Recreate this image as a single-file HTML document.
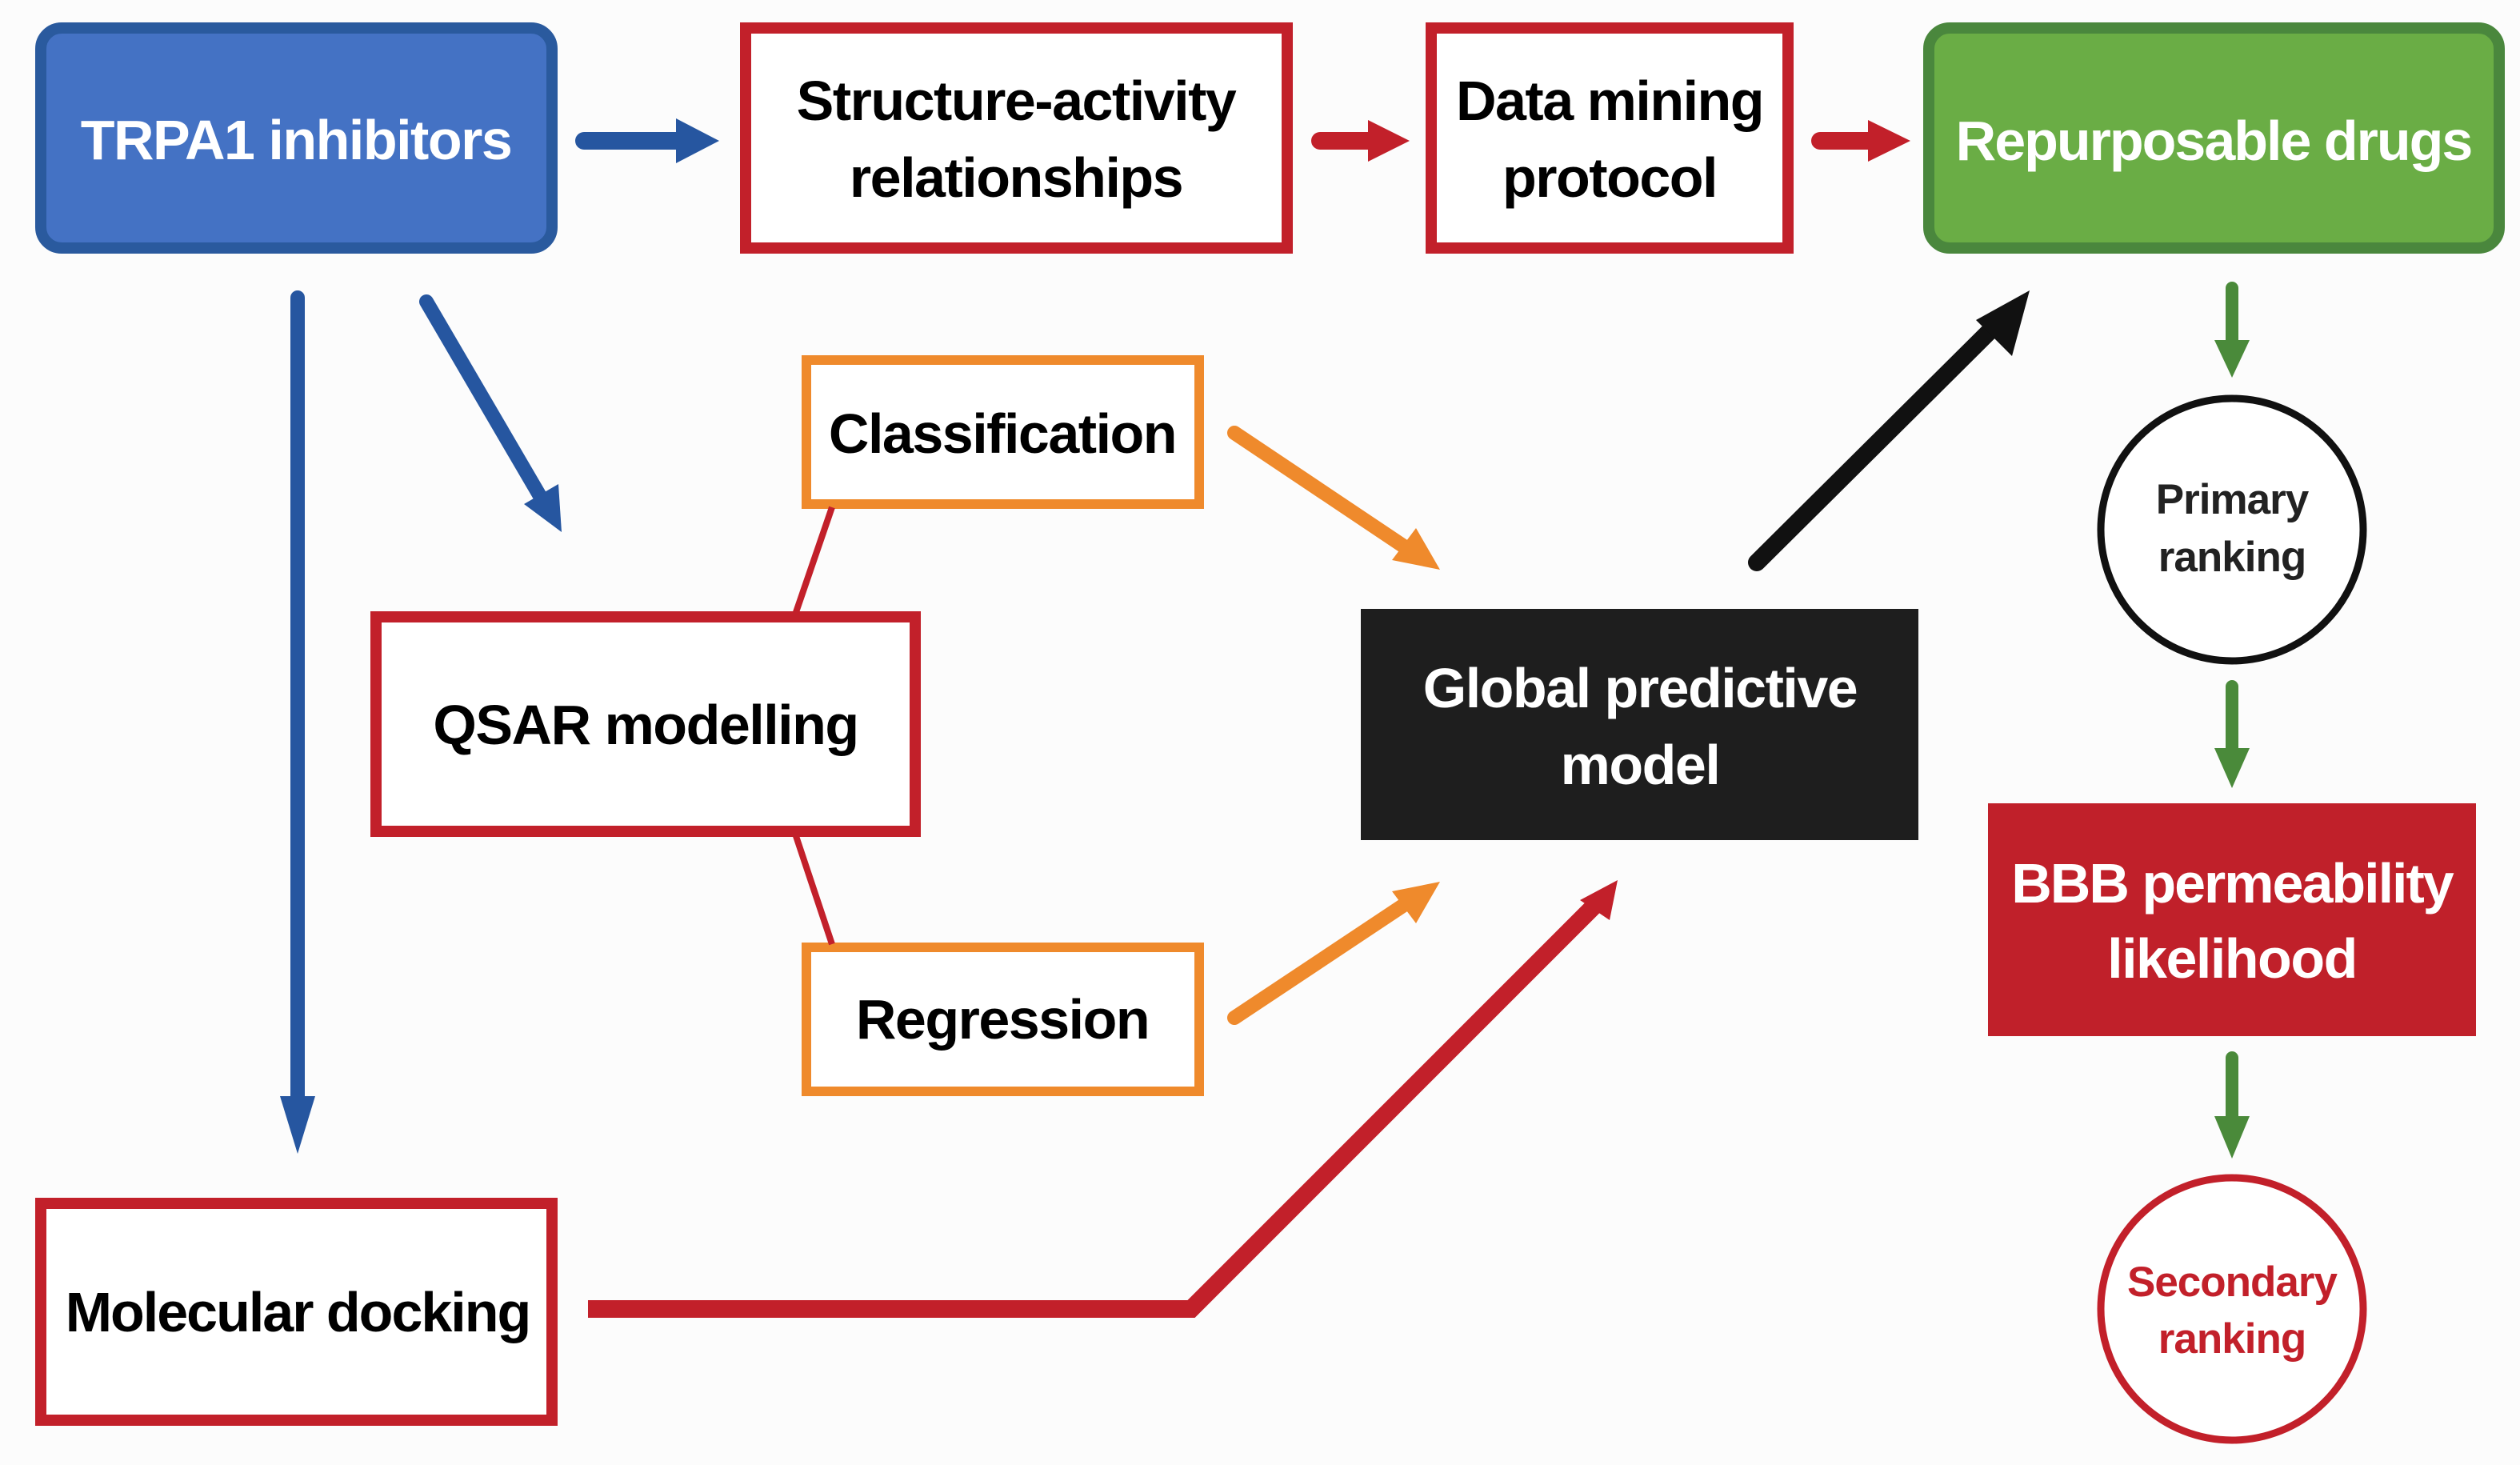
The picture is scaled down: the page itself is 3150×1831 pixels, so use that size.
<!DOCTYPE html>
<html><head><meta charset="utf-8"><style>
html,body{margin:0;padding:0;background:#fcfcfc;}
svg{display:block;}
text{font-family:"Liberation Sans",sans-serif;font-weight:bold;text-anchor:middle;}
</style></head><body>
<svg width="3150" height="1831" viewBox="0 0 3150 1831" xmlns="http://www.w3.org/2000/svg">
<rect width="3150" height="1831" fill="#fcfcfc"/>
<!-- Boxes -->
<rect x="51" y="35" width="639" height="275" rx="26" fill="#4472c4" stroke="#2a5a9e" stroke-width="14"/>
<text x="370" y="199" font-size="70" fill="#fff" letter-spacing="-1.5">TRPA1 inhibitors</text>

<rect x="932" y="35" width="677" height="275" fill="#fff" stroke="#c2202a" stroke-width="14"/>
<text x="1270" y="150" font-size="70" fill="#000" letter-spacing="-1.5">Structure-activity</text>
<text x="1270" y="246" font-size="70" fill="#000" letter-spacing="-1.5">relationships</text>

<rect x="1789" y="35" width="446" height="275" fill="#fff" stroke="#c2202a" stroke-width="14"/>
<text x="2012" y="150" font-size="70" fill="#000" letter-spacing="-1.5">Data mining</text>
<text x="2012" y="246" font-size="70" fill="#000" letter-spacing="-1.5">protocol</text>

<rect x="2411" y="35" width="713" height="275" rx="26" fill="#6aad45" stroke="#4a873d" stroke-width="14"/>
<text x="2767" y="200" font-size="70" fill="#fff" letter-spacing="-2">Repurposable drugs</text>

<rect x="1008" y="450" width="491" height="180" fill="#fff" stroke="#ef8a2c" stroke-width="12"/>
<text x="1253" y="566" font-size="70" fill="#000" letter-spacing="-1.5">Classification</text>

<rect x="470" y="771" width="674" height="268" fill="#fff" stroke="#c2202a" stroke-width="14"/>
<text x="807" y="930" font-size="70" fill="#000" letter-spacing="-1.5">QSAR modelling</text>

<rect x="1008" y="1184" width="491" height="180" fill="#fff" stroke="#ef8a2c" stroke-width="12"/>
<text x="1253" y="1298" font-size="70" fill="#000" letter-spacing="-1.5">Regression</text>

<rect x="1701" y="761" width="697" height="289" fill="#1e1e1e"/>
<text x="2050" y="884" font-size="70" fill="#fff" letter-spacing="-1.5">Global predictive</text>
<text x="2050" y="980" font-size="70" fill="#fff" letter-spacing="-1.5">model</text>

<rect x="51" y="1504" width="639" height="271" fill="#fff" stroke="#c2202a" stroke-width="14"/>
<text x="372" y="1664" font-size="70" fill="#000" letter-spacing="-2">Molecular docking</text>

<circle cx="2790" cy="662" r="164" fill="#fff" stroke="#111" stroke-width="9"/>
<text x="2790" y="642" font-size="53" fill="#222" letter-spacing="-1">Primary</text>
<text x="2790" y="714" font-size="53" fill="#222" letter-spacing="-1">ranking</text>

<rect x="2485" y="1004" width="610" height="291" fill="#c0202a"/>
<text x="2790" y="1128" font-size="70" fill="#fff" letter-spacing="-2">BBB permeability</text>
<text x="2790" y="1222" font-size="70" fill="#fff" letter-spacing="-1.5">likelihood</text>

<circle cx="2790" cy="1636" r="164" fill="#fff" stroke="#c2202a" stroke-width="9"/>
<text x="2790" y="1620" font-size="53" fill="#c2202a" letter-spacing="-1">Secondary</text>
<text x="2790" y="1691" font-size="53" fill="#c2202a" letter-spacing="-1">ranking</text>

<!-- connector lines -->
<line x1="1040" y1="634" x2="994" y2="768" stroke="#c2202a" stroke-width="8"/>
<line x1="994" y1="1042" x2="1040" y2="1180" stroke="#c2202a" stroke-width="8"/>

<!-- Arrows -->
<g stroke-linecap="round" fill="none">
<line x1="730" y1="176" x2="850" y2="176" stroke="#2656a0" stroke-width="22"/>
<line x1="1650" y1="176" x2="1715" y2="176" stroke="#c2202a" stroke-width="22"/>
<line x1="2275" y1="176" x2="2340" y2="176" stroke="#c2202a" stroke-width="22"/>
<line x1="372" y1="372" x2="372" y2="1380" stroke="#2656a0" stroke-width="18"/>
<line x1="533" y1="377" x2="675" y2="620" stroke="#2656a0" stroke-width="18"/>
<line x1="1543" y1="541" x2="1755" y2="683" stroke="#ef8a2c" stroke-width="18"/>
<line x1="1543" y1="1272" x2="1755" y2="1131" stroke="#ef8a2c" stroke-width="18"/>
<line x1="2196" y1="703" x2="2495" y2="406" stroke="#111" stroke-width="22"/>
<polyline points="735,1636 1489,1636 1995,1130" stroke="#c2202a" stroke-width="22" stroke-linecap="butt"/>
<line x1="2790" y1="360" x2="2790" y2="430" stroke="#4a8a3a" stroke-width="16"/>
<line x1="2790" y1="858" x2="2790" y2="940" stroke="#4a8a3a" stroke-width="16"/>
<line x1="2790" y1="1322" x2="2790" y2="1400" stroke="#4a8a3a" stroke-width="16"/>
</g>
<!-- arrowheads -->
<polygon points="845,148 899,176 845,204" fill="#2656a0"/>
<polygon points="1710,150 1762,176 1710,202" fill="#c2202a"/>
<polygon points="2335,150 2388,176 2335,202" fill="#c2202a"/>
<polygon points="350,1370 394,1370 372,1442" fill="#2656a0"/>
<polygon points="655,630 698,605 702,665" fill="#2656a0"/>
<polygon points="1740,700 1770,660 1800,712" fill="#ef8a2c"/>
<polygon points="1740,1114 1770,1154 1800,1102" fill="#ef8a2c"/>
<polygon points="2470,400 2515,445 2537,363" fill="#111"/>
<polygon points="1975,1125 2012,1150 2022,1100" fill="#c2202a"/>
<polygon points="2768,425 2812,425 2790,472" fill="#4a8a3a"/>
<polygon points="2768,935 2812,935 2790,985" fill="#4a8a3a"/>
<polygon points="2768,1395 2812,1395 2790,1448" fill="#4a8a3a"/>
</svg>
</body></html>
